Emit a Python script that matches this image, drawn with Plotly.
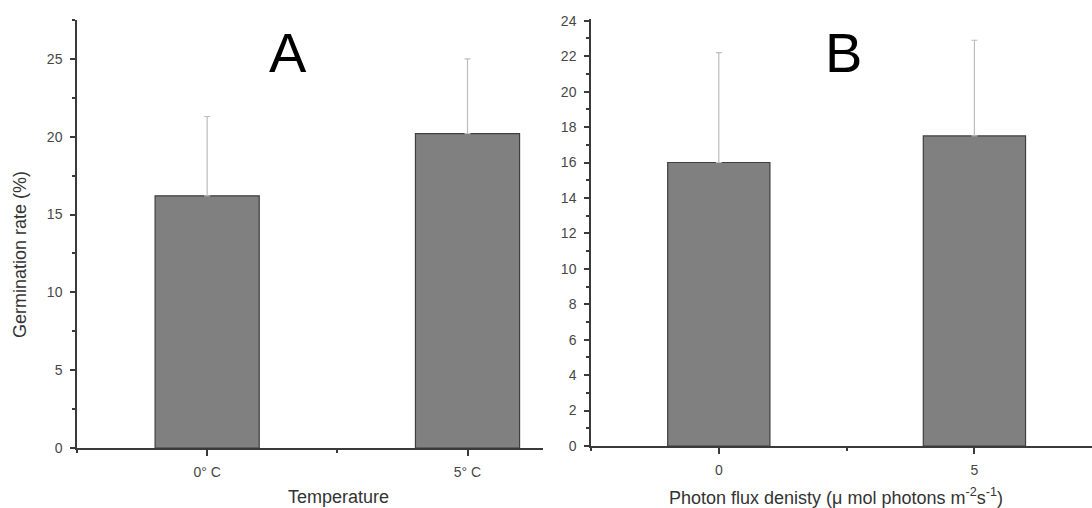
import plotly.graph_objects as go

# Data
temp_labels = ["0° C", "5° C"]
temp_values = [16.2, 20.2]
temp_errors = [5.1, 4.8]

pfd_labels = ["0", "5"]
pfd_values = [16.0, 17.5]
pfd_errors = [6.2, 5.4]

W, H = 1092, 508
FONT = "Liberation Sans, Arial, sans-serif"
AX = "#3a3a3a"
TICKC = "#474747"

fig = go.Figure()

bar_style = dict(marker=dict(color="#808080", line=dict(color="#3f3f3f", width=1.2)),
                 width=0.4, showlegend=False, hoverinfo="skip")

fig.add_trace(go.Bar(
    x=list(range(len(temp_labels))), y=temp_values,
    error_y=dict(type="data", array=temp_errors, arrayminus=[0]*len(temp_errors),
                 symmetric=False, color="#bdbdbd", thickness=1.2, width=3),
    xaxis="x", yaxis="y", **bar_style))

fig.add_trace(go.Bar(
    x=list(range(len(pfd_labels))), y=pfd_values,
    error_y=dict(type="data", array=pfd_errors, arrayminus=[0]*len(pfd_errors),
                 symmetric=False, color="#bdbdbd", thickness=1.2, width=3),
    xaxis="x2", yaxis="y2", **bar_style))

common_x = dict(showgrid=False, zeroline=False, showline=True, linecolor=AX, linewidth=1.5,
                ticks="outside", ticklen=6, tickwidth=1.5, tickcolor=AX, automargin=False,
                ticklabelstandoff=4,
                tickfont=dict(family=FONT, size=14, color=TICKC), fixedrange=True)
common_y = dict(showgrid=False, zeroline=False, showline=True, linecolor=AX, linewidth=1.5,
                ticks="outside", ticklen=5, tickwidth=1.5, tickcolor=AX, automargin=False,
                ticklabelstandoff=5,
                tickfont=dict(family=FONT, size=14, color=TICKC), fixedrange=True)

fig.update_layout(
    template="none",
    width=W, height=H, autosize=False,
    margin=dict(l=0, r=0, t=0, b=0, pad=0),
    paper_bgcolor="white", plot_bgcolor="white",
    xaxis=dict(domain=[77/W, 543/W], range=[-0.5, 1.29], tickmode="array",
               tickvals=list(range(len(temp_labels))), ticktext=temp_labels,
               minor=dict(tickvals=[-0.5, 0.5], ticklen=3, tickwidth=1.5, tickcolor=AX, ticks="outside"),
               anchor="y", **common_x),
    yaxis=dict(domain=[(H-448)/H, (H-20)/H], range=[0, 27.5], tickmode="linear", tick0=0, dtick=5,
               minor=dict(dtick=2.5, ticklen=3, tickwidth=1.5, tickcolor=AX, ticks="outside"),
               anchor="x", **common_y),
    xaxis2=dict(domain=[591/W, 1.0], range=[-0.5, 1.46], tickmode="array",
                tickvals=list(range(len(pfd_labels))), ticktext=pfd_labels,
                minor=dict(tickvals=[-0.5, 0.5], ticklen=3, tickwidth=1.5, tickcolor=AX, ticks="outside"),
                anchor="y2", **common_x),
    yaxis2=dict(domain=[(H-446)/H, (H-19)/H], range=[0, 24.1], tickmode="linear", tick0=0, dtick=2,
                minor=dict(dtick=1, ticklen=3, tickwidth=1.5, tickcolor=AX, ticks="outside"),
                anchor="x2", **common_y),
)

ann = [
    dict(text="A", x=288/W, y=(H-52)/H, font=dict(family=FONT, size=56, color="black")),
    dict(text="B", x=843/W, y=(H-52)/H, font=dict(family=FONT, size=56, color="black")),
    dict(text="Germination rate (%)", x=20/W, y=(H-255)/H, textangle=-90,
         font=dict(family=FONT, size=18, color="#333333")),
    dict(text="Temperature", x=338/W, y=(H-497)/H,
         font=dict(family=FONT, size=18, color="#333333")),
    dict(text="Photon flux denisty (μ mol photons m<sup>-2</sup>s<sup>-1</sup>)", x=836/W, y=(H-496)/H,
         font=dict(family=FONT, size=18, color="#333333")),
]
for a in ann:
    fig.add_annotation(xref="paper", yref="paper", xanchor="center", yanchor="middle",
                       showarrow=False, **a)

fig.write_html("out.html", config={"displayModeBar": False, "responsive": False},
               post_script="document.body.style.margin='0';document.body.style.overflow='hidden';")
